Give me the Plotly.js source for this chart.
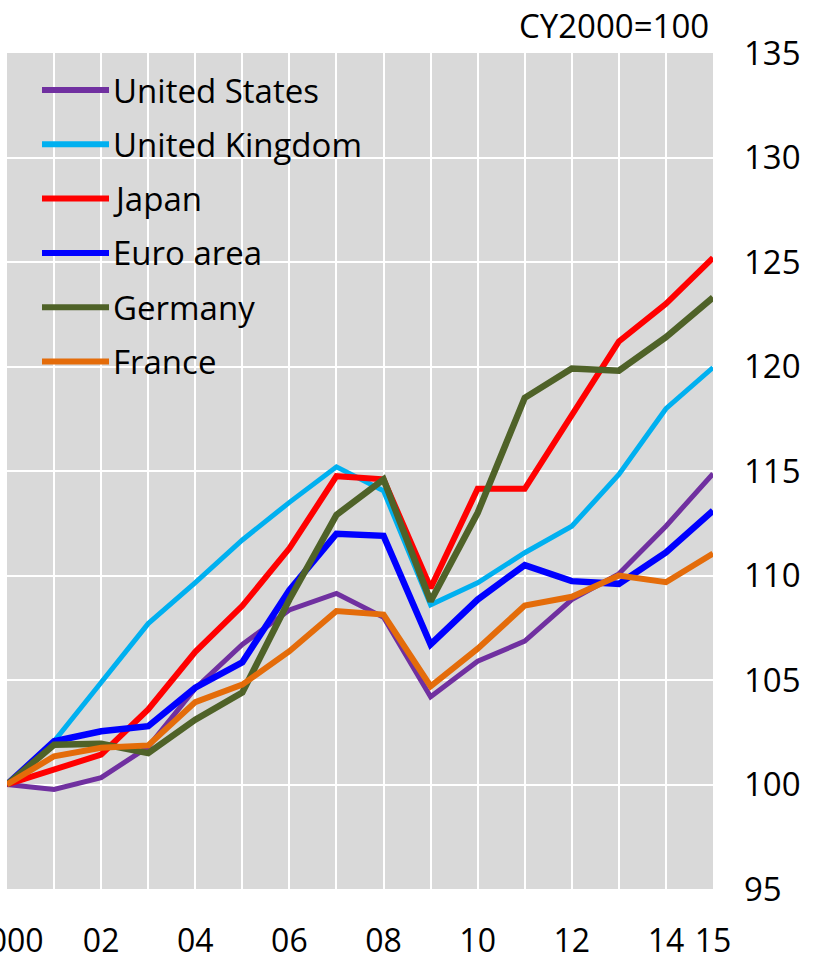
<!DOCTYPE html>
<html>
<head>
<meta charset="utf-8">
<script src="https://cdn.plot.ly/plotly-3.0.1.min.js"></script>
<style>html,body{margin:0;padding:0;background:#fff;}#chart{width:813px;height:955px;}</style>
</head>
<body>
<div id="chart"></div>
<script>
const years = [2000,2001,2002,2003,2004,2005,2006,2007,2008,2009,2010,2011,2012,2013,2014,2015];
const unitedStates = [100,99.76,100.33,101.8,104.6,106.7,108.35,109.14,108.0,104.2,105.9,106.86,108.85,110.08,112.36,114.87];
const unitedKingdom = [100,102.07,104.88,107.7,109.66,111.7,113.5,115.2,114.05,108.6,109.65,111.09,112.36,114.83,117.98,119.95];
const japan = [100,100.72,101.43,103.59,106.35,108.55,111.3,114.75,114.6,109.4,114.15,114.15,117.7,121.2,123.0,125.2];
const euroArea = [100,102.07,102.55,102.79,104.63,105.85,109.3,112.0,111.9,106.7,108.85,110.5,109.73,109.6,111.1,113.1];
const germany = [100,101.9,101.95,101.5,103.1,104.4,108.85,112.9,114.6,108.77,113.0,118.5,119.9,119.8,121.4,123.3];
const france = [100,101.35,101.76,101.87,103.94,104.78,106.38,108.3,108.13,104.7,106.5,108.56,108.98,110.0,109.68,111.05];

const seriesNames = ["United States","United Kingdom","Japan","Euro area","Germany","France"];
const seriesValues = [unitedStates, unitedKingdom, japan, euroArea, germany, france];
const seriesColors = ["#7030A0","#00B0F0","#FF0000","#0000FF","#4F6228","#E46C0A"];
const seriesWidths = [5,5,6,6.5,6.5,6];

const xTickVals = [2000,2002,2004,2006,2008,2010,2012,2014,2015];
const xTickText = ["2000","02","04","06","08","10","12","14","15"];
const unitNote = "CY2000=100";

const FONT = "Open Sans, sans-serif";

const traces = seriesNames.map((name, i) => ({
  x: years, y: seriesValues[i], name: name, type: "scatter", mode: "lines",
  line: {color: seriesColors[i], width: seriesWidths[i]},
  showlegend: false, hoverinfo: "skip"
}));

// manual legend (long line samples as in the reference)
const shapes = [];
const annotations = [];
const legTop = 90, legStep = 54.3;
const plotTop = 53, plotBottom = 889, plotLeft = 7, plotW = 706, plotH = plotBottom - plotTop;
seriesNames.forEach((name, i) => {
  const ypx = legTop + i * legStep;
  const yp = (plotBottom - ypx) / plotH;
  shapes.push({type: "line", xref: "paper", yref: "paper",
    x0: (42 - plotLeft) / plotW, x1: (109 - plotLeft) / plotW, y0: yp, y1: yp,
    line: {color: seriesColors[i], width: 6}});
  annotations.push({xref: "paper", yref: "paper", x: (111 - plotLeft) / plotW, y: yp,
    xanchor: "left", yanchor: "middle", text: name, showarrow: false,
    font: {family: FONT, size: 33, color: "#000"}});
});
annotations.push({xref: "paper", yref: "paper", x: (711 - plotLeft) / plotW, y: (plotBottom - 26) / plotH,
  xanchor: "right", yanchor: "middle", text: unitNote, showarrow: false,
  font: {family: FONT, size: 33, color: "#000"}});

const layout = {
  width: 813, height: 955,
  margin: {l: 7, r: 100, t: 53, b: 66, pad: 0},
  paper_bgcolor: "#ffffff",
  plot_bgcolor: "#D9D9D9",
  font: {family: FONT, size: 32, color: "#000"},
  xaxis: {
    range: [2000, 2015], tickvals: xTickVals, ticktext: xTickText,
    showgrid: false, zeroline: false, showline: false, ticks: "",
    ticklabelstandoff: 30, ticklabeloverflow: "allow",
    tickfont: {family: FONT, size: 32, color: "#000"},
    minor: {dtick: 1, tick0: 2000, showgrid: true, gridcolor: "#ffffff", gridwidth: 2, ticks: ""},
    fixedrange: true
  },
  yaxis: {
    range: [95, 135], dtick: 5, tick0: 95, side: "right",
    showgrid: true, gridcolor: "#ffffff", gridwidth: 2,
    zeroline: false, showline: false, ticks: "",
    ticklabelstandoff: 30, ticklabeloverflow: "allow",
    tickfont: {family: FONT, size: 33, color: "#000"},
    fixedrange: true
  },
  shapes: shapes,
  annotations: annotations,
  showlegend: false
};

Plotly.newPlot("chart", traces, layout, {staticPlot: true, displayModeBar: false});
</script>
</body>
</html>
